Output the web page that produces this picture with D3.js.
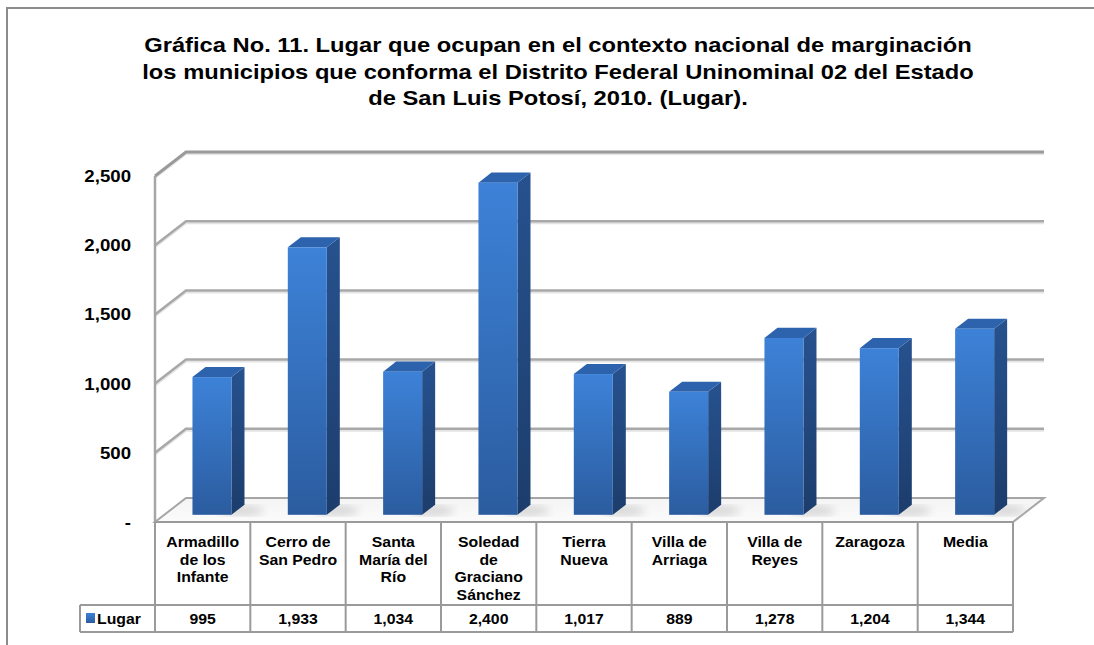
<!DOCTYPE html>
<html>
<head>
<meta charset="utf-8">
<script src="https://cdn.jsdelivr.net/npm/d3@7"></script>
<style>
body { margin: 0; background: #ffffff; }
svg { display: block; font-family: "Liberation Sans", Arial, sans-serif; }
</style>
</head>
<body>
<script>
var titleLines = [
	"Gráfica No. 11. Lugar que ocupan en el contexto nacional de marginación",
	"los municipios que conforma el Distrito Federal Uninominal 02 del Estado",
	"de San Luis Potosí, 2010. (Lugar)."
];
var categories = [
	["Armadillo", "de los", "Infante"],
	["Cerro de", "San Pedro"],
	["Santa", "María del", "Río"],
	["Soledad", "de", "Graciano", "Sánchez"],
	["Tierra", "Nueva"],
	["Villa de", "Arriaga"],
	["Villa de", "Reyes"],
	["Zaragoza"],
	["Media"]
];
var values = [995, 1933, 1034, 2400, 1017, 889, 1278, 1204, 1344];
var yTicks = [0, 500, 1000, 1500, 2000, 2500];
var seriesName = "Lugar";

var W = 1094, H = 645;
var SX = 1.13; // text in the picture is a bit wider than tall
var svg = d3.select("body").append("svg")
	.attr("width", W)
	.attr("height", H);

var defs = svg.append("defs");
function grad (id, x2, y2, stops) {
	var g = defs.append("linearGradient").attr("id", id)
		.attr("x1", 0).attr("y1", 0).attr("x2", x2).attr("y2", y2);
	stops.forEach(function (s) {
		g.append("stop").attr("offset", s[0]).attr("stop-color", s[1]);
	});
}
grad("front", 0, 1, [[0, "#3d82d8"], [1, "#2b5c9f"]]);
grad("side", 0, 1, [[0, "#27528f"], [1, "#1c3d6c"]]);
grad("floor", 0, 1, [[0, "#f4f4f4"], [1, "#fbfbfb"]]);
grad("legendKey", 0, 1, [[0, "#3d82d8"], [1, "#2b5c9f"]]);
defs.append("filter").attr("id", "blur")
	.append("feGaussianBlur").attr("stdDeviation", 4);

// text helper: horizontally stretched like the picture
function label (parent, x, y, txt, size, anchor) {
	return parent.append("text")
		.attr("transform", "translate(" + x + "," + y + ") scale(" + SX + ",1)")
		.attr("text-anchor", anchor || "middle")
		.style("font-size", size + "px")
		.style("font-weight", "bold")
		.attr("fill", "#000")
		.text(txt);
}

// outer frame
svg.append("path")
	.attr("d", "M7," + H + "V8H" + W)
	.attr("fill", "none")
	.attr("stroke", "#8c8c8c")
	.attr("stroke-width", 2);

// title
titleLines.forEach(function (t, i) {
	label(svg, 558, 52 + i * 26.5, t, 21);
});

// 3D geometry
var left = 155, right = 1013;
var DX = 31, DY = -24;
var y = d3.scaleLinear().domain([0, 2500]).range([522, 176]);
var x = d3.scaleBand().domain(d3.range(values.length)).range([left, right]);

// floor
var floorPts = [[left, y(0)], [right, y(0)], [right + DX, y(0) + DY], [left + DX, y(0) + DY]];
svg.append("polygon")
	.attr("points", floorPts.map(function (p) { return p.join(","); }).join(" "))
	.attr("fill", "url(#floor)")
	.attr("stroke", "#a6a6a6")
	.attr("stroke-width", 2);

// gridlines: side wall diagonal + back wall
var grid = svg.append("g");
yTicks.forEach(function (t) {
	if (t === 0) return;
	var yf = y(t), yb = y(t) + DY;
	grid.append("path")
		.attr("d", "M" + left + "," + (yf + 2) + "L" + (left + DX) + "," + (yb + 2) + "H" + (right + DX))
		.attr("fill", "none")
		.attr("stroke", "#e4e4e4")
		.attr("stroke-width", 2);
	grid.append("path")
		.attr("d", "M" + left + "," + yf + "L" + (left + DX) + "," + yb + "H" + (right + DX))
		.attr("fill", "none")
		.attr("stroke", t === 2500 ? "#9a9a9a" : "#a8a8a8")
		.attr("stroke-width", t === 2500 ? 3 : 2.5);
});
// left wall front edge
svg.append("line")
	.attr("x1", left).attr("x2", left)
	.attr("y1", y(2500)).attr("y2", y(0))
	.attr("stroke", "#a6a6a6")
	.attr("stroke-width", 2.5);

// bars
var d0 = 0.3, d1 = 0.72, bw = 39;
var bars = svg.append("g");
values.forEach(function (v, i) {
	var cx = x(i) + x.bandwidth() / 2 + DX * d0;
	var x0 = cx - bw / 2, x1 = cx + bw / 2;
	var yb = y(0) + DY * d0, yt = y(v) + DY * d0;
	var ox = DX * (d1 - d0), oy = DY * (d1 - d0);
	// soft shadow on floor
	bars.append("ellipse")
		.attr("cx", x1 + 10).attr("cy", yb - 4)
		.attr("rx", 22).attr("ry", 5)
		.attr("fill", "#bdbdbd")
		.attr("opacity", 0.6)
		.attr("filter", "url(#blur)");
	bars.append("polygon")
		.attr("points", [[x1, yt], [x1 + ox, yt + oy], [x1 + ox, yb + oy], [x1, yb]].join(" "))
		.attr("fill", "url(#side)");
	bars.append("polygon")
		.attr("points", [[x0, yt], [x0 + ox, yt + oy], [x1 + ox, yt + oy], [x1, yt]].join(" "))
		.attr("fill", "#2d63ac");
	bars.append("rect")
		.attr("x", x0).attr("y", yt)
		.attr("width", bw).attr("height", yb - yt)
		.attr("fill", "url(#front)");
});

// y tick labels
var tickG = svg.append("g");
yTicks.forEach(function (t) {
	label(tickG, 131, y(t) + 6, t === 0 ? "-" : d3.format(",")(t), 16.5, "end");
});

// data table
var tTop = 522, tMid = 605, tBot = 632, legLeft = 80;
var table = svg.append("g")
	.attr("stroke", "#9a9a9a")
	.attr("stroke-width", 2)
	.attr("fill", "none");
table.append("path").attr("d", "M" + left + "," + tTop + "H" + right);
table.append("path").attr("d", "M" + legLeft + "," + tMid + "H" + right);
table.append("path").attr("d", "M" + legLeft + "," + tBot + "H" + right);
table.append("path").attr("d", "M" + legLeft + "," + tMid + "V" + tBot);
d3.range(values.length + 1).forEach(function (i) {
	var xx = i < values.length ? x(i) : right;
	table.append("path").attr("d", "M" + xx + "," + tTop + "V" + tBot);
});

categories.forEach(function (lines, i) {
	var cx = x(i) + x.bandwidth() / 2;
	lines.forEach(function (l, j) {
		label(svg, cx, 547 + j * 17.5, l, 14);
	});
	label(svg, cx, 624, d3.format(",")(values[i]), 14);
});

// legend key
svg.append("rect")
	.attr("x", 86).attr("y", 613)
	.attr("width", 9).attr("height", 10)
	.attr("fill", "url(#legendKey)");
label(svg, 97, 624, seriesName, 14, "start");
</script>
</body>
</html>
